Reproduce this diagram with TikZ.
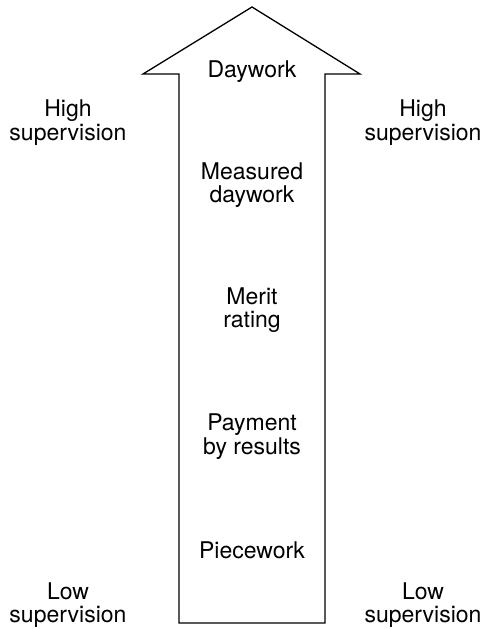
\documentclass[tikz,border=0pt]{standalone}
\usepackage{fontspec}
\setmainfont{TeX Gyre Heros}
\usepackage{tikz}
\usetikzlibrary{positioning}

\begin{document}
\begin{tikzpicture}[
      x=1pt, y=-1pt,
      lbl/.style={font=\fontsize{23}{23.5}\selectfont, align=center, inner sep=0pt}
    ]
    \useasboundingbox (0,0) rectangle (485,629);

    % Freccia
    \draw[line width=1.3pt, line join=miter]
      (179,623) -- (179,74) -- (143,74) -- (252,7) -- (360,74) -- (325,74) -- (325,623) -- cycle;

    % Metodi di retribuzione
    \node[lbl] (daywork)   at (252,72)    {Daywork};
    \node[lbl] (measured)  at (252,185)   {Measured\\daywork};
    \node[lbl] (merit)     at (252,310)   {Merit\\rating};
    \node[lbl] (payment)   at (252,436.5) {Payment\\by results};
    \node[lbl] (piecework) at (252,550)   {Piecework};

    % Supervisione
    \node[lbl] (highL) at (68,122.5)  {High\\supervision};
    \node[lbl] (highR) at (423,122.5) {High\\supervision};
    \node[lbl] (lowL)  at (68,605)    {Low\\supervision};
    \node[lbl] (lowR)  at (423,605)   {Low\\supervision};
  \end{tikzpicture}
\end{document}
